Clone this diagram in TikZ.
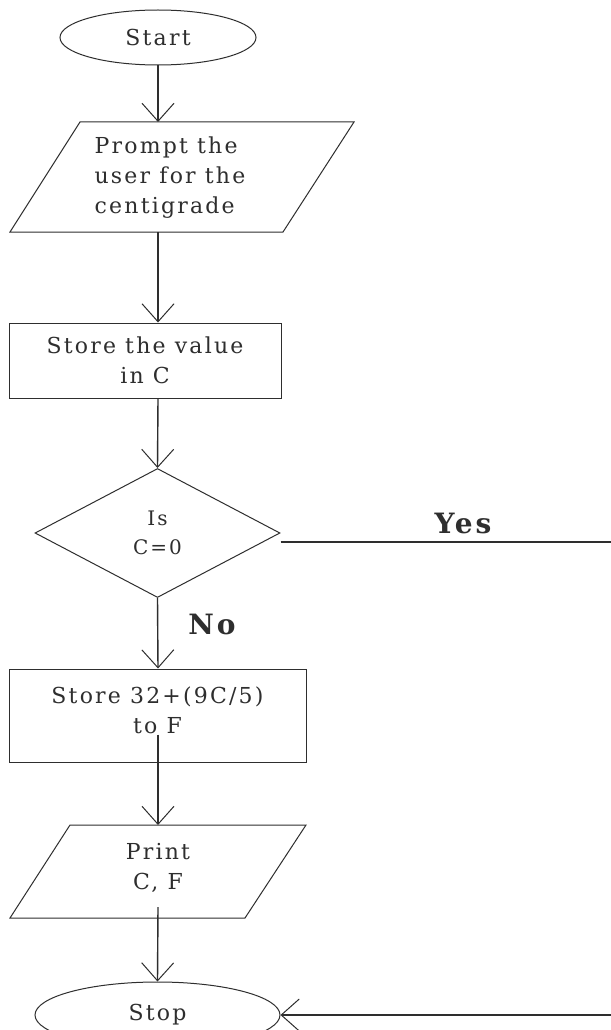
\documentclass[tikz,border=0pt]{standalone}
\usepackage{fontspec}
\setmainfont{DejaVu Serif}[LetterSpace=10]
\usetikzlibrary{arrows.meta,shapes.geometric}
\definecolor{ink}{HTML}{2E2E2E}
\begin{document}
\begin{tikzpicture}[x=1pt,y=-1pt,
  every node/.style={text=ink},
  body/.style={font=\fontsize{22}{30}\selectfont},
  small/.style={font=\fontsize{20}{29}\selectfont},
  lbl/.style={font=\fontsize{28}{30}\selectfont\bfseries},
  shp/.style={draw=ink, line width=1pt, inner sep=0pt},
  term/.style={shp, ellipse},
  iobox/.style={draw=ink, line width=1pt, line join=miter},
  proc/.style={shp, rectangle},
  dec/.style={shp, diamond},
  flow/.style={draw=ink, line width=1.4pt, -{Straight Barb[length=18pt,width=32pt,line width=1pt]}}
]
\fill[white] (0,0) rectangle (610,1030);
\useasboundingbox (0,0) rectangle (610,1030);
\coordinate (axis) at (158,0);
\coordinate (edge) at (614,0);

\node[term, body, minimum width=196pt, minimum height=55pt] (start) at (158,37.5) {Start};

% input parallelogram
\coordinate (p1top) at (158,122);
\coordinate (p1bot) at (158,232);
\draw[iobox] (80,122) -- (354,122) -- (283,232) -- (10,232) -- cycle;
\node[body, align=left] (p1t) at (170,178) {Prompt the\\user for the\\centigrade};

\node[proc, body, align=center, minimum width=272pt, minimum height=75pt] (s1) at (145,360.5) {Store the value\\in C};

\node[dec, small, align=center, minimum width=245pt, minimum height=129pt] (d) at (157.5,533) {Is\\C=0};

\node[proc, minimum width=297pt, minimum height=93pt] (s2) at (157.5,715.5) {};
\node[body, align=center] (s2t) at (157.5,710) {Store 32+(9C/5)\\to F};

% output parallelogram
\coordinate (p2top) at (158,825);
\coordinate (p2bot) at (158,918);
\draw[iobox] (70,825) -- (306,825) -- (245,918) -- (10,918) -- cycle;
\node[body, align=center] (p2t) at (158,868) {Print\\C, F};

\node[term, body, minimum width=245pt, minimum height=66pt] (stop) at (157.5,1015) {Stop};

\draw[flow] (start.south) -- (p1top);
\draw[flow] (p1bot) -- (axis |- s1.north);
\draw[flow] (axis |- s1.south) -- (d.north);
\draw[flow] (d.south) -- (axis |- s2.north);
\draw[flow] ([yshift=28pt]axis |- s2.south) -- (p2top);
\draw[flow] ([yshift=11pt]p2bot) -- (stop.north);
\draw[flow] ([yshift=-9pt]d.east) -- ([yshift=-9pt]d.east -| edge) -- (edge |- stop.east) -- (stop.east);

\node[lbl] (yes) at (463,523) {Yes};
\node[lbl] (no) at (212,624) {No};
\end{tikzpicture}
\end{document}
